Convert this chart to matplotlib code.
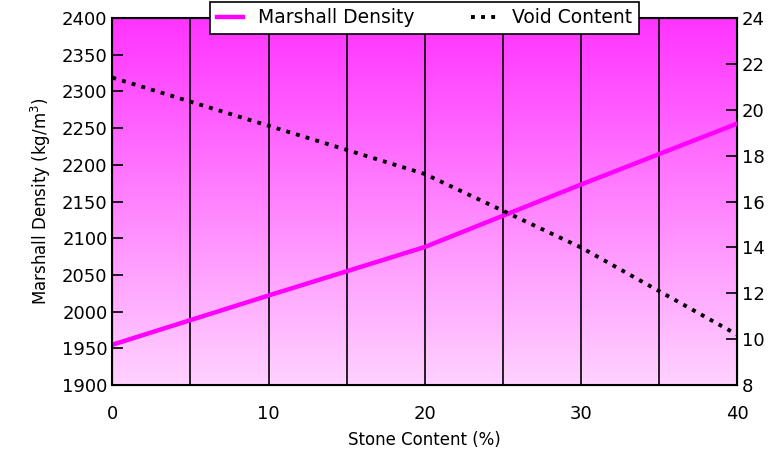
import numpy as np
import matplotlib
matplotlib.use("Agg")
from matplotlib import pyplot as plt
from matplotlib.colors import LinearSegmentedColormap

stone = [0, 10, 20, 30, 40]
density = [1955, 2022, 2088, 2173, 2256]
voids = [21.4, 19.3, 17.2, 14.0, 10.2]

plt.rcParams["font.family"] = ["DejaVu Sans"]
fig, ax = plt.subplots(figsize=(7.75, 4.59), dpi=100)
fig.subplots_adjust(left=0.145, right=0.951, top=0.961, bottom=0.161)

# gradient background
cmap = LinearSegmentedColormap.from_list("bg", ["#ffd2ff", "#ff33ff"])
grad = np.linspace(0, 1, 256).reshape(-1, 1)
ax.imshow(grad, cmap=cmap, origin="lower", extent=[0, 40, 1900, 2400], aspect="auto", zorder=0)

for x in range(5, 40, 5):
    ax.axvline(x, color="black", lw=1.2, zorder=1)

ax.plot(stone, density, color="#ff00ff", lw=3.2, zorder=3, label="Marshall Density")
ax.set_xlim(0, 40)
ax.set_ylim(1900, 2400)
ax.set_xticks([0, 10, 20, 30, 40])
ax.set_yticks(range(1900, 2401, 50))
ax.tick_params(axis="y", direction="in", length=8, width=1.2, labelsize=13)
ax.tick_params(axis="x", length=0, labelsize=13, pad=14)
ax.set_xlabel("Stone Content (%)", fontsize=12, labelpad=6)
ax.set_ylabel("Marshall Density (kg/m$^3$)", fontsize=12, labelpad=6)
for s in ax.spines.values():
    s.set_linewidth(1.5)

ax2 = ax.twinx()
ax2.plot(stone, voids, color="black", lw=2.8, linestyle=(0, (1, 1.6)), zorder=3, label="Void Content")
ax2.set_ylim(8, 24)
ax2.set_yticks(range(8, 25, 2))
ax2.tick_params(axis="y", direction="in", length=8, width=1.2, labelsize=13)
ax2.patch.set_visible(False)

h1, l1 = ax.get_legend_handles_labels()
h2, l2 = ax2.get_legend_handles_labels()
leg = ax2.legend(h1 + h2, l1 + l2, loc="center", bbox_to_anchor=(0.5, 1.0), ncol=2,
                 fontsize=13.5, frameon=True, fancybox=False, framealpha=1,
                 edgecolor="black", handlelength=1.4, columnspacing=3.0,
                 borderpad=0.35)
leg.get_frame().set_linewidth(1.2)

fig.savefig("out.png", dpi=100)
